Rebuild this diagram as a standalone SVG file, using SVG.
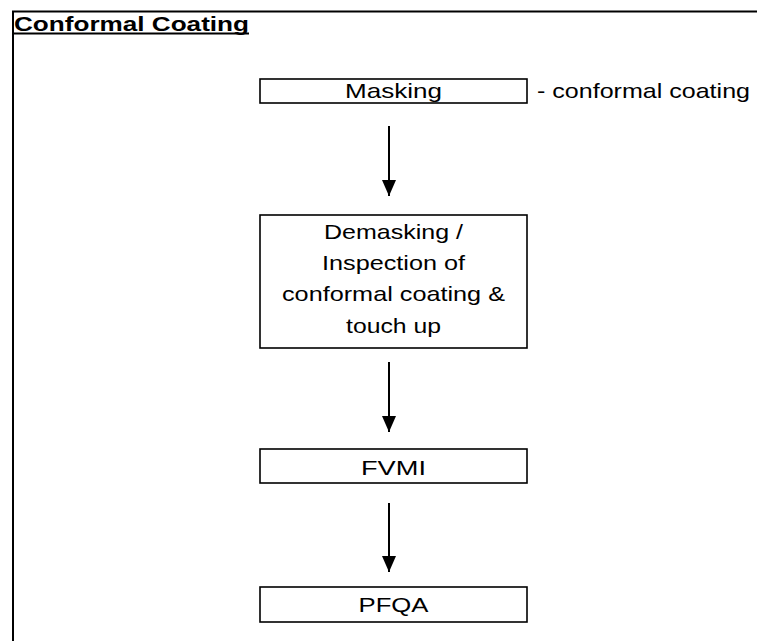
<svg xmlns="http://www.w3.org/2000/svg" width="757" height="641" viewBox="0 0 757 641">
  <style>
    .box { fill: #fff; stroke: #000; stroke-width: 1.6; }
    .t { font-family: "Liberation Sans", Arial, sans-serif; font-size: 21px; fill: #000; text-anchor: middle; }
    .title { font-family: "Liberation Sans", Arial, sans-serif; font-size: 20px; font-weight: bold; fill: #000; }
    .conn { stroke: #000; stroke-width: 2; fill: none; }
  </style>
  <defs>
    <marker id="ah" viewBox="0 0 16 14" refX="16" refY="7" markerWidth="16" markerHeight="14" markerUnits="userSpaceOnUse" orient="auto">
      <path d="M0,0 L16,7 L0,14 Z" fill="#000"/>
    </marker>
  </defs>
  <rect width="757" height="641" fill="#fff"/>
  <g id="frame">
    <line x1="12" y1="11.5" x2="757" y2="11.5" stroke="#000" stroke-width="2"/>
    <line x1="13" y1="11" x2="13" y2="641" stroke="#000" stroke-width="2"/>
  </g>
  <g id="title">
    <text class="title" x="14" y="31" textLength="235" lengthAdjust="spacingAndGlyphs">Conformal Coating</text>
    <line x1="14" y1="33.5" x2="249" y2="33.5" stroke="#000" stroke-width="2"/>
  </g>
  <g id="connectors">
    <line class="conn" x1="389" y1="126" x2="389" y2="196" marker-end="url(#ah)"/>
    <line class="conn" x1="389" y1="362" x2="389" y2="432" marker-end="url(#ah)"/>
    <line class="conn" x1="389" y1="503" x2="389" y2="572" marker-end="url(#ah)"/>
  </g>
  <g id="masking">
    <rect class="box" x="260" y="79" width="267" height="24"/>
    <text class="t" x="393.5" y="98" textLength="97" lengthAdjust="spacingAndGlyphs">Masking</text>
  </g>
  <g id="masking-note">
    <text class="t" x="643.5" y="98" textLength="213" lengthAdjust="spacingAndGlyphs">- conformal coating</text>
  </g>
  <g id="demasking">
    <rect class="box" x="260" y="215" width="267" height="133"/>
    <text class="t" x="393.5" y="239" textLength="139" lengthAdjust="spacingAndGlyphs">Demasking /</text>
    <text class="t" x="393.5" y="270" textLength="143" lengthAdjust="spacingAndGlyphs">Inspection of</text>
    <text class="t" x="393.5" y="301" textLength="223" lengthAdjust="spacingAndGlyphs">conformal coating &amp;</text>
    <text class="t" x="393.5" y="333" textLength="95" lengthAdjust="spacingAndGlyphs">touch up</text>
  </g>
  <g id="fvmi">
    <rect class="box" x="260" y="449" width="267" height="34"/>
    <text class="t" x="393.5" y="475" textLength="65" lengthAdjust="spacingAndGlyphs">FVMI</text>
  </g>
  <g id="pfqa">
    <rect class="box" x="260" y="587" width="267" height="35"/>
    <text class="t" x="393.5" y="612" textLength="70" lengthAdjust="spacingAndGlyphs">PFQA</text>
  </g>
</svg>
